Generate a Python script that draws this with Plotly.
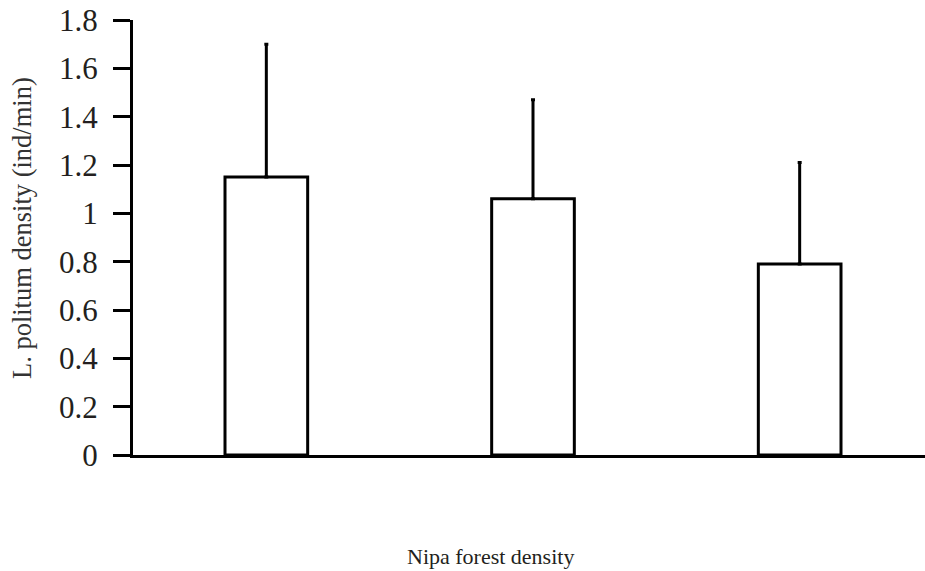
import plotly.graph_objects as go

categories = ["Low", "Medium", "High"]
means = [1.15, 1.06, 0.79]
errors_up = [0.55, 0.41, 0.42]
tick_vals = [0, 0.2, 0.4, 0.6, 0.8, 1.0, 1.2, 1.4, 1.6, 1.8]
tick_text = ["0", "0.2", "0.4", "0.6", "0.8", "1", "1.2", "1.4", "1.6", "1.8"]

FONT = "Liberation Serif"
INK = "#231f20"

fig = go.Figure()
fig.add_trace(go.Bar(
    x=list(range(len(categories))),
    y=means,
    width=0.31,
    marker=dict(color="white", line=dict(color="black", width=3)),
    error_y=dict(type="data", array=errors_up, arrayminus=[0] * len(errors_up),
                 symmetric=False, color="black", thickness=3, width=2),
    hovertext=categories,
))

fig.update_layout(
    width=925, height=571,
    margin=dict(l=133, r=0, t=20, b=116),
    paper_bgcolor="white", plot_bgcolor="white",
    showlegend=False,
    font=dict(family=FONT, color=INK),
    xaxis=dict(range=[-0.5, 2.47], showticklabels=False, ticks="",
               showgrid=False, zeroline=False, showline=True,
               linecolor="black", linewidth=3),
    yaxis=dict(range=[0, 1.8], tickvals=tick_vals, ticktext=tick_text,
               ticks="outside", ticklen=17, tickwidth=3, tickcolor="black",
               ticklabelstandoff=9,
               showgrid=False, zeroline=False, showline=True,
               linecolor="black", linewidth=3,
               tickfont=dict(family=FONT, size=31, color=INK)),
    annotations=[
        dict(text="L. politum density (ind/min)", xref="paper", yref="paper",
             x=-0.140, y=0.522, textangle=-90, showarrow=False,
             font=dict(family=FONT, size=26.5, color="#333333"),
             xanchor="center", yanchor="middle"),
        dict(text="Nipa forest density", xref="paper", yref="paper",
             x=0.452, y=-0.234, showarrow=False,
             font=dict(family=FONT, size=22, color=INK),
             xanchor="center", yanchor="middle"),
    ],
)

fig.write_html(
    "out.html",
    config={"displayModeBar": False},
    post_script="document.body.style.margin='0';document.body.style.overflow='hidden';",
)
